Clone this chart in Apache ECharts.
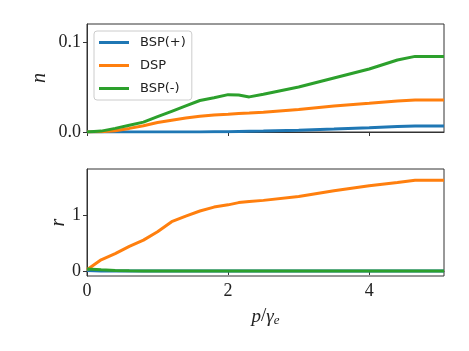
<!DOCTYPE html>
<html lang="en">
  <head>
    <meta charset="UTF-8" />
    <title>n and r vs p/gamma_e</title>
    <script src="https://cdn.jsdelivr.net/npm/echarts@6/dist/echarts.min.js"></script>
    <style>
      body { margin: 0; background: #ffffff; }
      #chart { width: 469px; height: 351px; }
    </style>
  </head>
  <body>
    <div id="chart"></div>
    <script>
      const chart = echarts.init(document.getElementById("chart"));

      // shared x values (p / gamma_e)
      const p = [0, 0.2, 0.4, 0.6, 0.8, 1.0, 1.2, 1.4, 1.6, 1.8, 2.0, 2.15, 2.3, 2.5, 3.0, 3.5, 4.0, 4.4, 4.65, 5.06];

      // top panel: n
      const nBspPlus = [0, 0, 0, 0, 0, 0, 0, 0, 0, 0.0002, 0.0004, 0.0006, 0.0008, 0.001, 0.002, 0.0033, 0.0047, 0.006, 0.0068, 0.0068];
      const nDsp = [0, 0.0003, 0.0015, 0.004, 0.007, 0.0105, 0.013, 0.0155, 0.0175, 0.019, 0.0198, 0.0205, 0.021, 0.022, 0.025, 0.029, 0.032, 0.0345, 0.0355, 0.0355];
      const nBspMinus = [0, 0.001, 0.004, 0.0075, 0.011, 0.017, 0.023, 0.029, 0.035, 0.038, 0.0415, 0.041, 0.039, 0.042, 0.05, 0.06, 0.07, 0.08, 0.084, 0.084];

      // bottom panel: r
      const rBspPlus = [0.01, 0, 0, 0, 0, 0, 0, 0, 0, 0, 0, 0, 0, 0, 0, 0, 0, 0, 0, 0];
      const rDsp = [0.02, 0.2, 0.31, 0.44, 0.55, 0.7, 0.88, 0.98, 1.07, 1.14, 1.18, 1.22, 1.24, 1.26, 1.33, 1.43, 1.52, 1.58, 1.62, 1.62];
      const rBspMinus = [0.035, 0.02, 0.01, 0.004, 0.001, 0, 0, 0, 0, 0, 0, 0, 0, 0, 0, 0, 0, 0, 0, 0];

      const xTicks = [0, 2, 4];
      const nTicks = [0, 0.1];
      const rTicks = [0, 1];

      const colors = ["#1f77b4", "#ff7f0e", "#2ca02c"];
      const names = ["BSP(+)", "DSP", "BSP(-)"];

      const pair = (ys) => p.map((x, i) => [x, ys[i]]);

      const serif = "Liberation Serif";

      function xAxis(gridIndex, showLabels) {
        return {
          type: "value",
          gridIndex: gridIndex,
          min: 0,
          max: 5.06,
          axisLine: { show: true, lineStyle: { color: "#333", width: 1 } },
          axisTick: { show: true, length: 4, customValues: xTicks, lineStyle: { color: "#333" } },
          axisLabel: {
            show: showLabels,
            customValues: xTicks,
            fontFamily: serif,
            fontSize: 18,
            color: "#222",
            margin: 6,
          },
          splitLine: { show: false },
          name: showLabels ? "{i|p}{n|/}{i|γ}{s|e}" : "",
          nameLocation: "middle",
          nameGap: 30,
          nameMoveOverlap: false,
          nameTextStyle: {
            rich: {
              i: { fontFamily: serif, fontStyle: "italic", fontSize: 19, color: "#222" },
              n: { fontFamily: serif, fontSize: 19, color: "#222" },
              s: { fontFamily: serif, fontStyle: "italic", fontSize: 13, color: "#222", verticalAlign: "bottom", padding: [8, 0, 0, 0] },
            },
          },
        };
      }

      function yAxis(gridIndex, min, max, ticks, fmt, name, gap) {
        return {
          type: "value",
          gridIndex: gridIndex,
          min: min,
          max: max,
          axisLine: { show: true, lineStyle: { color: "#333", width: 1 } },
          axisTick: { show: true, length: 4, customValues: ticks, lineStyle: { color: "#333" } },
          axisLabel: {
            customValues: ticks,
            formatter: fmt,
            fontFamily: serif,
            fontSize: 18,
            color: "#222",
            margin: 6,
          },
          splitLine: { show: false },
          name: name,
          nameLocation: "middle",
          nameGap: gap,
          nameMoveOverlap: false,
          nameTextStyle: { fontFamily: serif, fontStyle: "italic", fontSize: 20, color: "#222" },
        };
      }

      const series = [];
      [nBspPlus, nDsp, nBspMinus].forEach((ys, i) => {
        series.push({
          name: names[i], type: "line", xAxisIndex: 0, yAxisIndex: 0,
          data: pair(ys), showSymbol: false, smooth: false,
          lineStyle: { color: colors[i], width: 3 }, itemStyle: { color: colors[i] },
        });
      });
      [rBspPlus, rDsp, rBspMinus].forEach((ys, i) => {
        series.push({
          name: names[i], type: "line", xAxisIndex: 1, yAxisIndex: 1,
          data: pair(ys), showSymbol: false, smooth: false,
          lineStyle: { color: colors[i], width: 3 }, itemStyle: { color: colors[i] },
        });
      });

      const options = {
        animation: false,
        grid: [
          { left: 87, right: 25, top: 24, height: 108, show: true, borderColor: "#333", borderWidth: 1 },
          { left: 87, right: 25, top: 169, height: 107, show: true, borderColor: "#333", borderWidth: 1 },
        ],
        xAxis: [xAxis(0, false), xAxis(1, true)],
        yAxis: [
          yAxis(0, 0, 0.12, nTicks, (v) => v.toFixed(1), "n", 37),
          yAxis(1, -0.09, 1.82, rTicks, (v) => String(v), "r", 18),
        ],
        legend: {
          data: names,
          orient: "vertical",
          left: 94,
          top: 31,
          itemWidth: 30,
          itemHeight: 3,
          itemGap: 10,
          icon: "rect",
          padding: [5, 6, 5, 5],
          backgroundColor: "rgba(255,255,255,0.8)",
          borderColor: "#cccccc",
          borderWidth: 1,
          borderRadius: 3,
          textStyle: { fontFamily: "DejaVu Sans", fontSize: 13, color: "#222", padding: [0, 0, 0, 6] },
        },
        series: series,
      };

      chart.setOption(options);
    </script>
  </body>
</html>
